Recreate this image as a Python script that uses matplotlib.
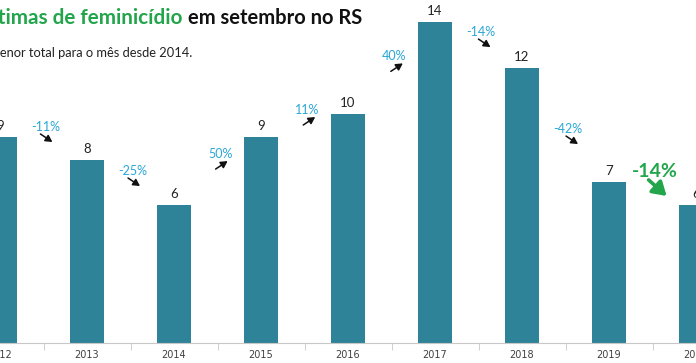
## import libraries ##
import matplotlib.pyplot as plt
from matplotlib.patches import FancyArrowPatch
import numpy as np

## data ##
years = ['2012', '2013', '2014', '2015', '2016', '2017', '2018', '2019', '2020']
victims = [9, 8, 6, 9, 10, 14, 12, 7, 6]
# height (in chart units) where each percent change label sits
pct_label_y = [9.42, 7.5, 8.24, 10.16, 12.5, 13.56, 9.33, 7.46]

BAR = '#2f8399'
CYAN = '#2aa7d6'
GREEN = '#22a54b'

x = np.arange(len(years))
pct = [(victims[i + 1] - victims[i]) / victims[i] * 100 for i in range(len(victims) - 1)]

fig = plt.figure(figsize=(6.96, 3.63), dpi=100)
ax = fig.add_axes([0, 20 / 363, 1, 343 / 363])
ax.bar(x, victims, width=0.4, color=BAR, zorder=2)
ax.set_xlim(1 / 87.6, 697 / 87.6)
ax.set_ylim(0, 343 / 22.93)

## value labels ##
for xi, v in zip(x, victims):
    ax.annotate(str(v), (xi, v), xytext=(0, 5), textcoords='offset pixels',
                ha='center', va='bottom', fontsize=9.5, color='#222222', family='Lato')

## percent change labels with arrows ##
for i, p in enumerate(pct):
    xm = i + 0.5 + 0.03
    y = pct_label_y[i]
    last = i == len(pct) - 1
    col = GREEN if last else CYAN
    ax.text(xm, y, f'{p:.0f}%', ha='center', va='center', color=col,
            fontsize=14 if last else 9, family='Lato', fontweight='bold' if last else 'normal')
    if last:
        tail, head, lw, hl, hw = (-10, -8), (8, -24), 2.6, 8, 5
    elif p < 0:
        tail, head, lw, hl, hw = (-5, -7), (7, -15), 1.1, 4, 2.2
    else:
        tail, head, lw, hl, hw = (-5, -15), (7, -7), 1.1, 4, 2.2
    # arrow drawn in pixel offsets from the label position
    px, py = ax.transData.transform((xm, y))
    fig.patches.append(FancyArrowPatch(
        (px + tail[0], py + tail[1]), (px + head[0], py + head[1]),
        transform=None, arrowstyle=f'-|>,head_length={hl},head_width={hw}',
        color=GREEN if last else '#111111', lw=lw, mutation_scale=1,
        shrinkA=0, shrinkB=0, figure=fig))

## axis styling ##
for s in ['top', 'right', 'left']:
    ax.spines[s].set_visible(False)
ax.spines['bottom'].set_color('#c8c8c8')
ax.set_yticks([])
ax.set_xticks(x)
ax.set_xticklabels(years, fontsize=7, color='#404040', family='Liberation Sans Narrow')
ax.tick_params(axis='x', length=0, pad=5)
ax.set_xticks(x[:-1] + 0.5, minor=True)
ax.tick_params(axis='x', which='minor', length=5, color='#c8c8c8')

## title and subtitle (cut off at the left edge as in the source) ##
fig.text(182 / 696, 1 - 18 / 363, 'Vítimas de feminicídio', ha='right', va='center',
         color=GREEN, fontsize=14.9, fontweight='bold', family='Lato')
fig.text(188 / 696, 1 - 18 / 363, 'em setembro no RS', ha='left', va='center',
         color='#111111', fontsize=14.5, fontweight='bold', family='Lato')
fig.text(192 / 696, 1 - 53 / 363, 'Menor total para o mês desde 2014.', ha='right', va='center',
         color='#222222', fontsize=9.3, family='Lato')

fig.savefig('out.png', dpi=100)
